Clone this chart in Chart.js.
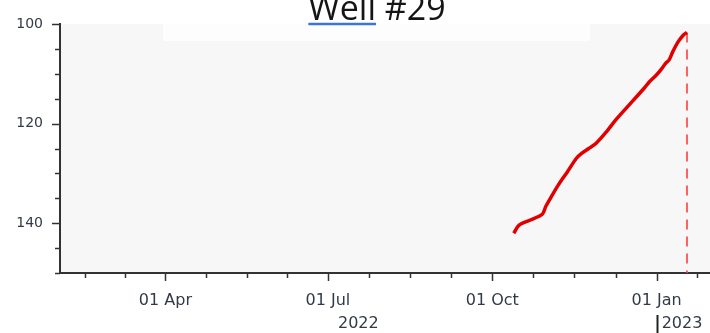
<!DOCTYPE html>
<html><head><meta charset="utf-8">
<script src="https://cdn.jsdelivr.net/npm/chart.js@4.4.0/dist/chart.umd.min.js"></script>
<style>
html,body{margin:0;padding:0;background:#fff;overflow:hidden;width:710px;height:333px}
#wrap{position:relative;width:720px;height:333px}
</style></head>
<body><div id="wrap"><canvas id="c" width="720" height="333"></canvas></div>
<script>
// ---- data ----
const chartTitle = 'Well #29';
const titleUnderlined = 'Well';
const dates = ['2022-10-13','2022-10-16','2022-10-22','2022-10-29','2022-10-31','2022-11-03','2022-11-07',
  '2022-11-12','2022-11-17','2022-11-20','2022-11-24','2022-11-28','2022-12-04','2022-12-09','2022-12-15',
  '2022-12-21','2022-12-25','2022-12-28','2023-01-01','2023-01-04','2023-01-06','2023-01-08','2023-01-10',
  '2023-01-13','2023-01-16','2023-01-18'];
const depths = [142.0,140.4,139.4,138.2,136.6,134.7,132.3,129.7,127.0,126.0,125.0,124.0,121.6,119.3,116.9,
  114.5,112.9,111.6,110.2,108.9,107.9,107.2,105.6,103.6,102.2,101.7];
const markerDate = '2023-01-18';
const xRange = ['2022-02-01','2023-02-01'];
const yRange = [100,150];
const yLabelStep = 20;
const yMinorStep = 5;
const quarterStarts = ['2022-01-01','2022-04-01','2022-07-01','2022-10-01','2023-01-01','2023-04-01'];
const quarterLabels = ['01 Jan','01 Apr','01 Jul','01 Oct','01 Jan','01 Apr'];
const years = ['2022','2023'];

// ---- helpers ----
const toDay = s => Date.parse(s) / 864e5;
const xMin = toDay(xRange[0]), xMax = toDay(xRange[1]);
const majorDays = quarterStarts.map(toDay);
const xTicks = [];
for (let i = 0; i < majorDays.length; i++) {
  xTicks.push({value: majorDays[i], major: true, label: quarterLabels[i]});
  if (i < majorDays.length - 1) {
    const span = majorDays[i+1] - majorDays[i];
    for (let k = 1; k < 4; k++) xTicks.push({value: majorDays[i] + span * k / 4, major: false, label: ''});
  }
}
const xTicksIn = xTicks.filter(t => t.value >= xMin && t.value <= xMax);
const yTicks = [];
for (let v = yRange[0]; v <= yRange[1]; v += yMinorStep) yTicks.push({value: v, major: v % yLabelStep === 0 && v < yRange[1]});

const points = dates.map((d, i) => ({x: toDay(d), y: depths[i]}));
const mDay = toDay(markerDate);
const markerPts = [{x: mDay, y: depths[depths.length-1]}, {x: mDay, y: yRange[1]}];

const AXIS = '#333333';
const TXT = '#323a46';

const decor = {
  id: 'decor',
  beforeDraw(chart) {
    const {ctx, chartArea: a} = chart;
    ctx.save();
    ctx.fillStyle = '#f7f7f7';
    ctx.fillRect(a.left, a.top, a.right - a.left, a.bottom - a.top);
    ctx.fillStyle = '#fdfdfd';
    ctx.fillRect(163, a.top, 590 - 163, 17);
    ctx.restore();
  },
  afterDraw(chart) {
    const {ctx, chartArea: a, scales: {x, y}} = chart;
    ctx.save();
    ctx.strokeStyle = AXIS; ctx.lineWidth = 1.5;
    xTicksIn.forEach(t => {
      const px = Math.round(x.getPixelForValue(t.value)) + 0.5;
      ctx.beginPath(); ctx.moveTo(px, a.bottom); ctx.lineTo(px, a.bottom + (t.major ? 8 : 5)); ctx.stroke();
    });
    yTicks.forEach(t => {
      const py = Math.round(y.getPixelForValue(t.value)) + 0.5;
      ctx.beginPath(); ctx.moveTo(a.left, py); ctx.lineTo(a.left - (t.major ? 8 : 5), py); ctx.stroke();
    });
    // year labels
    ctx.font = '16px "DejaVu Sans"';
    ctx.fillStyle = TXT; ctx.textAlign = 'center'; ctx.textBaseline = 'middle';
    years.forEach((yr, i) => {
      const s = Math.max(xMin, toDay(yr + '-01-01'));
      const e = Math.min(xMax, toDay((+yr + 1) + '-01-01'));
      const ps = x.getPixelForValue(s), pe = x.getPixelForValue(e);
      ctx.fillText(yr, Math.min((ps + pe) / 2, 682), 324);
      if (s > xMin) {
        ctx.strokeStyle = '#222'; ctx.lineWidth = 2;
        ctx.beginPath(); ctx.moveTo(Math.round(ps) + 0.5, 315); ctx.lineTo(Math.round(ps) + 0.5, 333); ctx.stroke();
      }
    });
    // title
    ctx.font = '34px "Open Sans"';
    ctx.textAlign = 'left'; ctx.textBaseline = 'alphabetic';
    const w = ctx.measureText(chartTitle).width;
    const tx = 377 - w / 2;
    ctx.fillStyle = '#151515';
    ctx.fillText(chartTitle, tx, 20);
    const uw = ctx.measureText(titleUnderlined).width;
    ctx.strokeStyle = '#3d74dc'; ctx.lineWidth = 2.5;
    ctx.beginPath(); ctx.moveTo(tx, 24); ctx.lineTo(tx + uw, 24); ctx.stroke();
    ctx.restore();
  }
};

new Chart(document.getElementById('c'), {
  type: 'line',
  data: {
    datasets: [
      {data: points, borderColor: '#e00000', borderWidth: 3.5, pointRadius: 0, tension: 0.3, fill: false},
      {data: markerPts, borderColor: 'rgba(255,70,70,0.85)', borderWidth: 2, borderDash: [10, 7], pointRadius: 0, fill: false}
    ]
  },
  options: {
    responsive: false, animation: false, devicePixelRatio: 1,
    layout: {padding: {top: 24, right: 8, left: 0, bottom: 0}},
    plugins: {legend: {display: false}, title: {display: false}, tooltip: {enabled: false}},
    scales: {
      x: {
        type: 'linear', min: xMin, max: xMax,
        afterBuildTicks: sc => { sc.ticks = xTicksIn.map(t => ({value: t.value})); },
        afterFit: sc => { sc.height = 60; },
        ticks: {
          autoSkip: false, maxRotation: 0, padding: 10,
          font: {family: 'DejaVu Sans', size: 16}, color: TXT,
          callback: v => { const t = xTicksIn.find(q => q.value === v); return t ? t.label : ''; }
        },
        grid: {drawOnChartArea: false, drawTicks: true, tickLength: 8, tickColor: 'transparent', color: 'transparent'},
        border: {display: true, color: AXIS, width: 2}
      },
      y: {
        type: 'linear', reverse: true, min: yRange[0], max: yRange[1],
        afterBuildTicks: sc => { sc.ticks = yTicks.map(t => ({value: t.value})); },
        afterFit: sc => { sc.width = 60; },
        ticks: {
          autoSkip: false, padding: 9,
          font: {family: 'DejaVu Sans', size: 14}, color: TXT,
          callback: v => (v % yLabelStep === 0 && v < yRange[1]) ? String(v) : ''
        },
        grid: {drawOnChartArea: false, drawTicks: true, tickLength: 8, tickColor: 'transparent', color: 'transparent'},
        border: {display: true, color: AXIS, width: 2}
      }
    }
  },
  plugins: [decor]
});
</script>
</body></html>
